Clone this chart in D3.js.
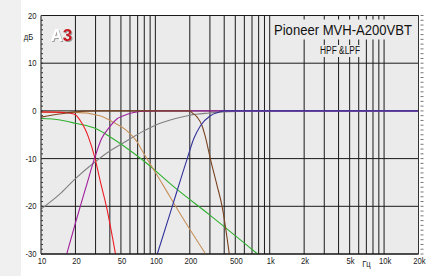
<!DOCTYPE html>
<html><head><meta charset="utf-8">
<script src="https://cdn.jsdelivr.net/npm/d3@7"></script>
<style>
html,body{margin:0;padding:0;background:#fff;}
svg{display:block;}
text{font-family:"Liberation Sans",Arial,sans-serif;}
</style></head>
<body>
<svg id="chart" width="426" height="276"></svg>
<script>
// ---------- data ----------
const freqTicks = [10, 20, 50, 100, 200, 500, 1000, 2000, 5000, 10000, 20000];
const freqTickLabels = ["10", "20", "50", "100", "200", "500", "1k", "2k", "5k", "10k", "20k"];
const gridFreqs = [20, 30, 40, 50, 60, 70, 80, 90, 100, 200, 300, 400, 500, 600, 700, 800, 900,
                   1000, 2000, 3000, 4000, 5000, 6000, 7000, 8000, 9000, 10000, 20000];
const dbTicks = [20, 10, 0, -10, -20, -30];
const dbMinorTicks = d3.range(-30, 21, 1);

const grayF   = [10, 15, 20, 30, 40, 50, 64.5, 76.5, 100, 150, 200, 295, 400, 600, 1000, 20000];
const grayDb  = [-20.6, -17.2, -14.2, -10.6, -8.4, -7.0, -5.4, -4.4, -3.0, -1.6, -0.9, -0.45, -0.2, -0.05, 0, 0];
const greenF  = [10, 14.7, 20, 30.7, 40, 76.5, 150, 294, 783];
const greenDb = [-1.6, -1.9, -2.6, -3.8, -5.4, -10.2, -16.2, -21.7, -30];
const tanF    = [10, 20, 32.8, 43, 56, 68.8, 76.5, 115, 171, 275];
const tanDb   = [-0.3, -0.3, -1.0, -2.4, -4.1, -6.4, -8.3, -15.3, -22.2, -30];
const redF    = [10, 15, 18, 20, 22, 24.3, 26, 29.7, 32.8, 37.6, 44.8];
const redDb   = [-0.2, -0.3, -0.5, -0.8, -2.0, -3.8, -5.5, -10, -14.5, -20.4, -30];
const purpleF = [16.8, 20, 25, 29.7, 33.9, 40, 46, 52.6, 64.5, 73.6, 100, 20000];
const purpleDb= [-30, -23.5, -15.6, -9.6, -5.8, -3.3, -1.7, -1.0, -0.35, -0.1, 0, 0];
const brownF  = [10, 15, 20, 30, 100, 200, 210, 232, 256, 272, 303, 346, 384, 443];
const brownDb = [-1.3, -0.6, -0.2, 0, 0, 0, -0.4, -1.3, -3.1, -5.2, -10.1, -15.6, -20.1, -30];
const blueF   = [104, 140.6, 190, 217, 248, 303, 358, 398, 20000];
const blueDb  = [-30, -20, -10, -5.8, -3.1, -1.0, -0.3, 0, 0];

const series = [
  {name: "gray",   f: grayF,   db: grayDb,   color: "#808080"},
  {name: "green",  f: greenF,  db: greenDb,  color: "#2fb02f"},
  {name: "tan",    f: tanF,    db: tanDb,    color: "#c8915c"},
  {name: "red",    f: redF,    db: redDb,    color: "#ee1c24"},
  {name: "purple", f: purpleF, db: purpleDb, color: "#a0209c"},
  {name: "brown",  f: brownF,  db: brownDb,  color: "#7a4320"},
  {name: "blue",   f: blueF,   db: blueDb,   color: "#33339c"}
];

// ---------- layout ----------
const svg = d3.select("#chart");
const W = 426, H = 276;
const L = 41, R = 418.5, T = 15.5, B = 254;
const plotBg = "#ebebeb";

const x = d3.scaleLog().domain([10, 20000]).range([L, R]);
const y = d3.scaleLinear().domain([-30, 20]).range([B, T]);

const defs = svg.append("defs");
const sh = defs.append("filter").attr("id", "shadow").attr("x", "-20%").attr("y", "-20%").attr("width", "150%").attr("height", "150%");
sh.append("feDropShadow").attr("dx", 1).attr("dy", 1).attr("stdDeviation", 0.6).attr("flood-color", "#888").attr("flood-opacity", 0.8);

svg.append("rect").attr("width", W).attr("height", H).attr("fill", "#fff");
svg.append("rect").attr("width", 21).attr("height", H).attr("fill", "#f0f0f0");
svg.append("rect").attr("x", L).attr("y", T).attr("width", R - L).attr("height", B - T).attr("fill", plotBg);

// grid
const grid = svg.append("g");
grid.selectAll("line.v").data(gridFreqs).join("line")
  .attr("x1", d => x(d)).attr("x2", d => x(d)).attr("y1", T).attr("y2", B)
  .attr("stroke", "#1a1a1a").attr("stroke-width", 1);
grid.selectAll("line.h").data(dbTicks).join("line")
  .attr("x1", L).attr("x2", R).attr("y1", d => y(d)).attr("y2", d => y(d))
  .attr("stroke", "#1a1a1a").attr("stroke-width", 1);

// title boxes (mask gridlines)
svg.append("rect").attr("x", 271.5).attr("y", 19.5).attr("width", 142).attr("height", 20).attr("fill", plotBg);
svg.append("rect").attr("x", 316).attr("y", 45).attr("width", 46).attr("height", 12).attr("fill", plotBg);
svg.append("text").attr("x", 274).attr("y", 35)
  .attr("font-size", 14).attr("fill", "#111")
  .attr("textLength", 138).attr("lengthAdjust", "spacingAndGlyphs")
  .text("Pioneer MVH-A200VBT");
svg.append("text").attr("x", 320).attr("y", 53.5)
  .attr("font-size", 10).attr("fill", "#111")
  .attr("textLength", 40).attr("lengthAdjust", "spacingAndGlyphs")
  .text("HPF &LPF");

// logo
const logo = svg.append("text").attr("x", 50.5).attr("y", 41)
  .attr("font-weight", "bold").attr("font-size", 17).attr("filter", "url(#shadow)");
logo.append("tspan").attr("fill", "#ffffff").text("A");
logo.append("tspan").attr("fill", "#c8171e").text("3");

// curves
const clip = defs.append("clipPath").attr("id", "clip").append("rect")
  .attr("x", L).attr("y", T).attr("width", R - L).attr("height", B - T + 0.5);
const line = d3.line().x(d => x(d[0])).y(d => y(d[1])).curve(d3.curveMonotoneX);
const cg = svg.append("g").attr("clip-path", "url(#clip)");
series.forEach(s => {
  const pts = s.f.map((f, i) => [f, s.db[i]]);
  cg.append("path").datum(pts).attr("d", line)
    .attr("fill", "none").attr("stroke", s.color).attr("stroke-width", 1.1);
});

// frame / axes
svg.append("line").attr("x1", L).attr("x2", L).attr("y1", T).attr("y2", B).attr("stroke", "#111");
svg.append("line").attr("x1", L).attr("x2", R).attr("y1", B).attr("y2", B).attr("stroke", "#111");
svg.append("line").attr("x1", R).attr("x2", R).attr("y1", T).attr("y2", B).attr("stroke", "#333");
svg.selectAll("line.mt").data(dbMinorTicks).join("line")
  .attr("x1", L).attr("x2", L + 2).attr("y1", d => y(d)).attr("y2", d => y(d))
  .attr("stroke", "#333").attr("stroke-width", 1);
svg.selectAll("line.rt").data(dbMinorTicks).join("line")
  .attr("x1", R + 2).attr("x2", R + 5).attr("y1", d => y(d)).attr("y2", d => y(d))
  .attr("stroke", "#777").attr("stroke-width", 1);

// labels (narrowed horizontally like the condensed original)
const fs = 9, sx = 0.85;
svg.selectAll("text.yl").data(dbTicks).join("text")
  .attr("transform", d => `translate(36.5,${y(d)}) scale(${sx},1)`)
  .attr("dy", "0.35em").attr("text-anchor", "end")
  .attr("font-size", fs).attr("fill", "#222").text(d => d);
svg.append("text").attr("transform", `translate(28.5,39.5) scale(${sx},1)`).attr("text-anchor", "middle")
  .attr("font-size", fs).attr("fill", "#222").text("дБ");
svg.selectAll("text.xl").data(freqTicks).join("text")
  .attr("transform", d => `translate(${x(d) + 1},261) scale(${sx},1)`)
  .attr("dy", "0.35em").attr("text-anchor", "middle")
  .attr("font-size", fs).attr("fill", "#222").text((d, i) => freqTickLabels[i]);
svg.append("text").attr("transform", `translate(366.5,264) scale(${sx},1)`)
  .attr("dy", "0.35em").attr("text-anchor", "middle")
  .attr("font-size", fs).attr("fill", "#222").text("Гц");
</script>
</body></html>
